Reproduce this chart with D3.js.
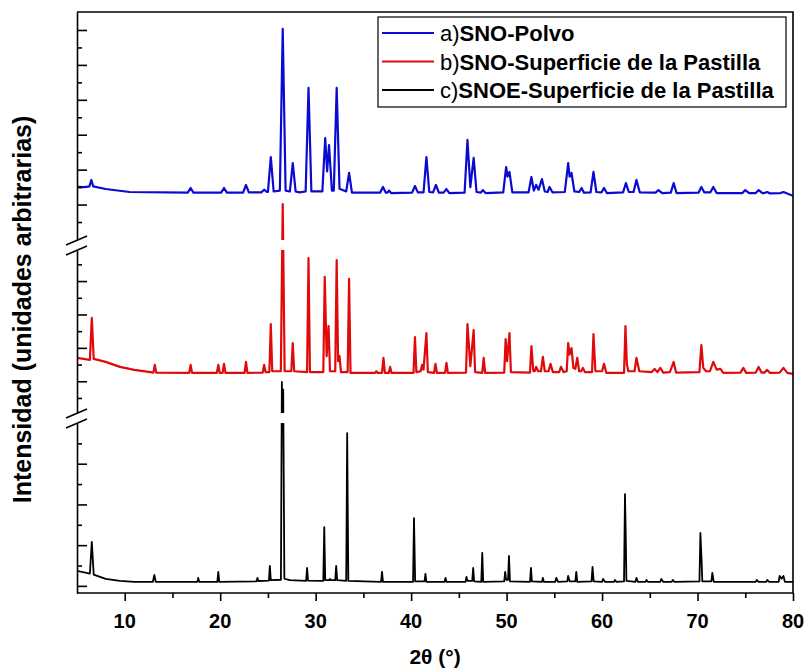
<!DOCTYPE html>
<html>
<head>
<meta charset="utf-8">
<script src="https://cdn.jsdelivr.net/npm/d3@7"></script>
<style>
  html, body { margin: 0; padding: 0; background: #fff; overflow: hidden; }
  svg { display: block; }
  text { font-family: "Liberation Sans", Arial, sans-serif; }
</style>
</head>
<body>
<svg id="chart"></svg>
<script>
// 2-theta ticks
const angleTicks = [10, 20, 30, 40, 50, 60, 70, 80];
const angleMinorTicks = [15, 25, 35, 45, 55, 65, 75];

// broken intensity axis: [low segment | gap | mid segment | gap | high segment]
const intensityBreaks = [-0.35, 8, 12.1, 21.86, 22.97, 36.03];
const lowTicks = [0, 1, 2, 3, 4, 5, 6, 7];
const midTicks = [13, 14, 15, 16, 17, 18, 19, 20, 21];
const highTicks = [24, 25, 26, 27, 28, 29, 30, 31, 32, 33, 34, 35];

const seriesPrefix = ["a)", "b)", "c)"];
const seriesNames = ["SNO-Polvo", "SNO-Superficie de la Pastilla", "SNOE-Superficie de la Pastilla"];
const seriesColors = ["#0a0ad2", "#e00a0a", "#000000"];

// a) SNO-Polvo  [2theta, intensity]
const powderPoints = [
  [5.0, 26.01], [5.8, 26.0], [6.3, 26.04], [6.5, 26.41], [6.7, 26.04], [8.0, 25.89], [10.5, 25.72],
  [16.6, 25.68], [16.9, 25.95], [17.2, 25.68], [20.1, 25.68], [20.4, 25.95], [20.7, 25.68],
  [22.4, 25.68], [22.7, 26.12], [23.0, 25.7], [24.3, 25.7], [24.6, 25.85], [24.9, 25.72],
  [25.0, 25.72], [25.3, 27.72], [25.6, 25.75], [26.25, 25.8], [26.55, 35.06], [26.85, 25.8],
  [27.3, 25.75], [27.6, 27.38], [27.9, 25.75], [28.3, 25.7], [28.95, 25.75], [29.25, 31.68],
  [29.55, 25.75], [30.7, 25.75], [31.0, 28.81], [31.2, 26.9], [31.4, 28.41], [31.7, 25.8],
  [31.9, 25.8], [32.2, 31.68], [32.5, 25.9], [33.2, 25.75], [33.5, 26.81], [33.8, 25.68],
  [36.75, 25.68], [37.05, 26.01], [37.35, 25.68], [37.5, 25.68], [37.7, 25.8], [37.9, 25.66],
  [40.1, 25.68], [40.4, 26.06], [40.7, 25.7], [41.3, 25.7], [41.6, 27.72], [41.9, 25.72],
  [42.3, 25.7], [42.6, 26.12], [42.9, 25.68], [43.4, 25.68], [43.7, 25.89], [44.0, 25.66],
  [45.6, 25.68], [45.9, 28.7], [46.2, 26.0], [46.55, 27.67], [46.85, 25.72], [47.3, 25.68],
  [47.5, 25.83], [47.8, 25.66], [49.65, 25.7], [49.95, 27.15], [50.1, 26.6], [50.3, 26.87],
  [50.6, 25.7], [52.3, 25.7], [52.6, 26.58], [52.85, 25.8], [53.1, 26.12], [53.35, 25.85],
  [53.7, 26.46], [54.0, 25.75], [54.3, 25.72], [54.5, 26.01], [54.8, 25.7], [56.1, 25.72],
  [56.45, 27.38], [56.6, 26.6], [56.8, 26.81], [57.1, 25.75], [57.6, 25.72], [57.85, 25.95],
  [58.1, 25.68], [58.8, 25.7], [59.1, 26.87], [59.4, 25.72], [59.95, 25.7], [60.2, 25.95],
  [60.5, 25.66], [62.2, 25.7], [62.5, 26.23], [62.8, 25.72], [63.3, 25.72], [63.6, 26.41],
  [63.95, 25.7], [65.6, 25.68], [65.9, 25.83], [66.3, 25.66], [67.2, 25.68], [67.5, 26.23],
  [67.8, 25.66], [70.1, 25.68], [70.4, 26.01], [70.7, 25.7], [71.35, 25.7], [71.65, 26.01],
  [72.0, 25.66], [74.7, 25.66], [75.0, 25.83], [75.4, 25.66], [76.1, 25.66], [76.4, 25.83],
  [76.8, 25.66], [77.0, 25.66], [77.3, 25.72], [77.6, 25.64], [78.7, 25.66], [79.0, 25.72],
  [80.0, 25.5]
];

// b) SNO-Superficie de la Pastilla
const pelletPoints = [
  [5.0, 15.4], [6.35, 15.28], [6.55, 17.79], [6.75, 15.34], [8.0, 15.16], [9.5, 14.86],
  [11.0, 14.68], [12.5, 14.56], [13.0, 14.52], [13.15, 14.98], [13.3, 14.52], [16.75, 14.5],
  [16.9, 14.98], [17.05, 14.5], [19.65, 14.5], [19.8, 14.98], [19.95, 14.5], [20.25, 14.5],
  [20.4, 15.04], [20.55, 14.5], [22.55, 14.5], [22.7, 15.16], [22.85, 14.5], [24.45, 14.52],
  [24.6, 14.98], [24.75, 14.55], [25.15, 14.55], [25.3, 17.43], [25.45, 14.6], [26.35, 14.6],
  [26.55, 25.03], [26.75, 14.6], [27.45, 14.6], [27.6, 16.29], [27.75, 14.6], [29.1, 14.55],
  [29.25, 21.38], [29.4, 14.55], [30.8, 14.55], [30.95, 20.25], [31.15, 15.5], [31.35, 17.31],
  [31.5, 14.6], [32.05, 14.6], [32.2, 21.26], [32.35, 15.2], [32.5, 15.51], [32.65, 14.55],
  [33.35, 14.55], [33.5, 20.13], [33.65, 14.5], [36.2, 14.5], [36.35, 14.6], [36.5, 14.5],
  [36.95, 14.5], [37.1, 15.4], [37.25, 14.5], [37.65, 14.5], [37.8, 14.86], [37.95, 14.5],
  [40.25, 14.5], [40.4, 16.65], [40.55, 14.55], [41.0, 14.6], [41.15, 14.98], [41.3, 14.7],
  [41.6, 16.89], [41.75, 14.55], [42.4, 14.5], [42.55, 15.04], [42.7, 14.5], [43.55, 14.5],
  [43.7, 15.1], [43.85, 14.5], [45.75, 14.52], [45.9, 17.43], [46.2, 14.9], [46.55, 17.07],
  [46.7, 14.55], [47.45, 14.5], [47.6, 15.4], [47.75, 14.5], [49.75, 14.52], [49.9, 16.53],
  [50.05, 15.2], [50.3, 16.89], [50.45, 14.55], [52.45, 14.52], [52.6, 16.11], [52.8, 14.6],
  [52.95, 14.6], [53.1, 14.86], [53.3, 14.6], [53.6, 14.6], [53.8, 15.46], [54.0, 14.6],
  [54.4, 14.6], [54.6, 15.04], [54.85, 14.55], [55.5, 14.55], [55.7, 14.86], [55.95, 14.55],
  [56.3, 14.6], [56.45, 16.29], [56.6, 15.6], [56.8, 15.99], [57.0, 14.8], [57.2, 14.75],
  [57.4, 15.4], [57.6, 14.6], [57.8, 14.6], [58.0, 14.8], [58.2, 14.55], [58.95, 14.55],
  [59.1, 16.83], [59.3, 14.6], [60.0, 14.6], [60.2, 15.04], [60.45, 14.5], [62.3, 14.5],
  [62.45, 17.31], [62.6, 15.0], [62.75, 14.6], [63.4, 14.6], [63.6, 15.4], [63.9, 14.6],
  [65.2, 14.55], [65.5, 14.74], [65.8, 14.55], [66.1, 14.8], [66.4, 14.52], [67.1, 14.55],
  [67.5, 15.16], [67.75, 14.52], [70.2, 14.55], [70.4, 16.17], [70.6, 14.8], [70.9, 14.6],
  [71.3, 14.6], [71.65, 15.16], [72.0, 14.7], [72.4, 14.74], [72.7, 14.5], [74.5, 14.52],
  [74.8, 14.8], [75.1, 14.5], [76.1, 14.52], [76.4, 14.86], [76.7, 14.52], [77.0, 14.52],
  [77.3, 14.68], [77.6, 14.5], [78.6, 14.52], [79.0, 14.8], [79.4, 14.5], [80.0, 14.44]
];

// c) SNOE-Superficie de la Pastilla
const pelletEPoints = [
  [5.0, 0.74], [6.35, 0.6], [6.55, 2.16], [6.75, 0.55], [8.0, 0.34], [9.5, 0.25], [11.0, 0.2],
  [12.95, 0.2], [13.1, 0.54], [13.25, 0.2], [17.6, 0.2], [17.7, 0.39], [17.8, 0.2], [19.7, 0.2],
  [19.8, 0.69], [19.9, 0.2], [23.8, 0.22], [23.9, 0.39], [24.0, 0.24], [25.1, 0.26], [25.2, 0.98],
  [25.3, 0.28], [26.36, 0.3], [26.46, 13.96], [26.52, 9.0], [26.6, 13.5], [26.72, 0.35],
  [27.3, 0.28], [29.0, 0.25], [29.1, 0.88], [29.2, 0.26], [30.8, 0.25], [30.9, 2.89], [31.0, 0.28],
  [31.4, 0.28], [31.5, 0.34], [31.6, 0.28], [32.05, 0.28], [32.15, 0.98], [32.25, 0.28],
  [33.2, 0.25], [33.3, 7.5], [33.42, 0.25], [36.85, 0.2], [36.95, 0.69], [37.05, 0.2],
  [40.2, 0.2], [40.3, 3.33], [40.42, 0.22], [41.4, 0.22], [41.5, 0.59], [41.6, 0.2], [43.5, 0.2],
  [43.6, 0.39], [43.7, 0.2], [45.7, 0.2], [45.8, 0.44], [45.9, 0.25], [46.4, 0.25], [46.5, 0.88],
  [46.6, 0.22], [47.35, 0.2], [47.45, 1.62], [47.55, 0.2], [49.75, 0.22], [49.85, 0.69],
  [49.95, 0.3], [50.15, 0.3], [50.25, 1.47], [50.35, 0.22], [52.45, 0.2], [52.55, 0.88],
  [52.65, 0.22], [53.7, 0.2], [53.8, 0.39], [53.9, 0.2], [55.1, 0.2], [55.2, 0.39], [55.4, 0.2],
  [56.35, 0.22], [56.45, 0.49], [56.6, 0.22], [57.2, 0.22], [57.3, 0.69], [57.4, 0.2],
  [58.9, 0.22], [59.0, 0.93], [59.12, 0.22], [60.0, 0.2], [60.1, 0.34], [60.3, 0.2],
  [61.25, 0.2], [61.35, 0.29], [61.5, 0.2], [62.3, 0.22], [62.4, 4.51], [62.48, 2.5],
  [62.55, 0.25], [63.5, 0.2], [63.6, 0.39], [63.75, 0.2], [64.55, 0.2], [64.65, 0.29],
  [64.8, 0.2], [66.1, 0.2], [66.2, 0.34], [66.4, 0.2], [67.3, 0.2], [67.4, 0.29], [67.6, 0.2],
  [70.2, 0.22], [70.3, 2.6], [70.42, 1.3], [70.5, 0.22], [71.45, 0.22], [71.55, 0.64],
  [71.7, 0.2], [76.1, 0.2], [76.2, 0.29], [76.4, 0.2], [77.2, 0.2], [77.3, 0.29], [77.5, 0.2],
  [78.5, 0.2], [78.6, 0.49], [78.8, 0.35], [79.0, 0.49], [79.15, 0.2], [80.0, 0.2]
];

const allSeries = [powderPoints, pelletPoints, pelletEPoints];

const width = 806;
const height = 671;
const margin = { top: 12, right: 13, bottom: 78, left: 77 };
const innerWidth = width - margin.left - margin.right;
const innerHeight = height - margin.top - margin.bottom;

const svg = d3.select("#chart").attr("width", width).attr("height", height);

// scales work in page coordinates so every text sits at absolute positions
const x = d3.scaleLinear().domain([5, 80]).range([margin.left, margin.left + innerWidth]);
const bottomY = margin.top + innerHeight;
// piecewise scale, the two 10px gaps are hidden by the clip
const y = d3.scaleLinear()
  .domain(intensityBreaks)
  .range([bottomY, bottomY - 170, bottomY - 180, margin.top + 238, margin.top + 228, margin.top]);

// visible bands of the broken axis
const bands = [
  [intensityBreaks[0], intensityBreaks[1]],
  [intensityBreaks[2], intensityBreaks[3]],
  [intensityBreaks[4], intensityBreaks[5]]
];

const clip = svg.append("defs").append("clipPath").attr("id", "bands");
bands.forEach(([lo, hi]) => {
  clip.append("rect")
    .attr("x", margin.left)
    .attr("y", y(hi))
    .attr("width", innerWidth)
    .attr("height", y(lo) - y(hi));
});

// series lines
const line = d3.line().x((d) => x(d[0])).y((d) => y(d[1]));
svg.append("g")
  .attr("clip-path", "url(#bands)")
  .selectAll("path")
  .data(allSeries)
  .join("path")
  .attr("fill", "none")
  .attr("stroke", (d, i) => seriesColors[i])
  .attr("stroke-width", (d, i) => (i === 2 ? 1.8 : 2.2))
  .attr("stroke-linejoin", "round")
  .attr("d", line);

// frame: top and right
svg.append("path")
  .attr("d", `M${margin.left},${margin.top}H${margin.left + innerWidth}V${bottomY}`)
  .attr("fill", "none")
  .attr("stroke", "#000")
  .attr("stroke-width", 1.6);

// x axis (ticks from the axis, labels placed with the same scale)
const xAxis = svg.append("g").attr("transform", `translate(0,${bottomY})`);
xAxis.call(d3.axisBottom(x).tickValues(angleTicks).tickSize(8).tickSizeOuter(0));
const xMinor = xAxis.append("g")
  .call(d3.axisBottom(x).tickValues(angleMinorTicks).tickSize(5).tickSizeOuter(0));
xMinor.select(".domain").remove();
xAxis.selectAll("text").remove();
xAxis.selectAll(".domain").attr("d", `M${margin.left},0H${margin.left + innerWidth}`);
xAxis.selectAll("line, path").attr("stroke", "#000").attr("stroke-width", 1.6);

svg.append("g")
  .selectAll("text")
  .data(angleTicks)
  .join("text")
  .attr("x", (d) => x(d))
  .attr("y", bottomY + 35)
  .attr("text-anchor", "middle")
  .style("font-size", "20px")
  .style("font-weight", "bold")
  .text((d) => d);

// y axis, one piece per band, ticks pointing inside
const bandTicks = [lowTicks, midTicks, highTicks];
const longParity = [0, 0, 1];
bands.forEach(([lo, hi], i) => {
  const seg = d3.scaleLinear().domain([lo, hi]).range([y(lo), y(hi)]);
  const major = bandTicks[i].filter((t) => Math.abs(t % 2) === longParity[i]);
  const minor = bandTicks[i].filter((t) => Math.abs(t % 2) !== longParity[i]);
  const g = svg.append("g").attr("transform", `translate(${margin.left},0)`);
  g.call(d3.axisLeft(seg).tickValues(major).tickSize(-10).tickSizeOuter(0));
  const gm = g.append("g")
    .call(d3.axisLeft(seg).tickValues(minor).tickSize(-5).tickSizeOuter(0));
  gm.select(".domain").remove();
  g.selectAll("text").remove();
  g.selectAll("line, path").attr("stroke", "#000").attr("stroke-width", 1.6);
});

// break marks
[intensityBreaks[1], intensityBreaks[2], intensityBreaks[3], intensityBreaks[4]].forEach((b) => {
  const yb = y(b);
  svg.append("line")
    .attr("x1", margin.left - 11).attr("y1", yb + 5)
    .attr("x2", margin.left + 10).attr("y2", yb - 4)
    .attr("stroke", "#000")
    .attr("stroke-width", 1.6);
});

// axis titles
svg.append("text")
  .attr("text-anchor", "middle")
  .attr("transform", `translate(31,${margin.top + innerHeight / 2 + 7}) rotate(-90)`)
  .style("font-size", "25px")
  .style("font-weight", "bold")
  .text("Intensidad (unidades arbitrarias)");

svg.append("text")
  .attr("text-anchor", "middle")
  .attr("x", margin.left + innerWidth / 2)
  .attr("y", 664)
  .style("font-size", "21px")
  .style("font-weight", "bold")
  .text("2θ (°)");

// legend
const legendX = 378;
const legendY = 17;
svg.append("rect")
  .attr("x", legendX)
  .attr("y", legendY)
  .attr("width", 408)
  .attr("height", 90)
  .attr("fill", "#fff")
  .attr("stroke", "#000")
  .attr("stroke-width", 1.2);

svg.append("g")
  .selectAll("line")
  .data(seriesNames)
  .join("line")
  .attr("x1", legendX + 4)
  .attr("x2", legendX + 56)
  .attr("y1", (d, i) => legendY + 16 + i * 28.5)
  .attr("y2", (d, i) => legendY + 16 + i * 28.5)
  .attr("stroke", (d, i) => seriesColors[i])
  .attr("stroke-width", 2);

const label = svg.append("g")
  .selectAll("text")
  .data(seriesNames)
  .join("text")
  .attr("x", legendX + 62)
  .attr("y", (d, i) => legendY + 24 + i * 28.5)
  .style("font-size", "22px");
label.append("tspan").text((d, i) => seriesPrefix[i]);
label.append("tspan").style("font-weight", "bold").text((d) => d);
</script>
</body>
</html>
